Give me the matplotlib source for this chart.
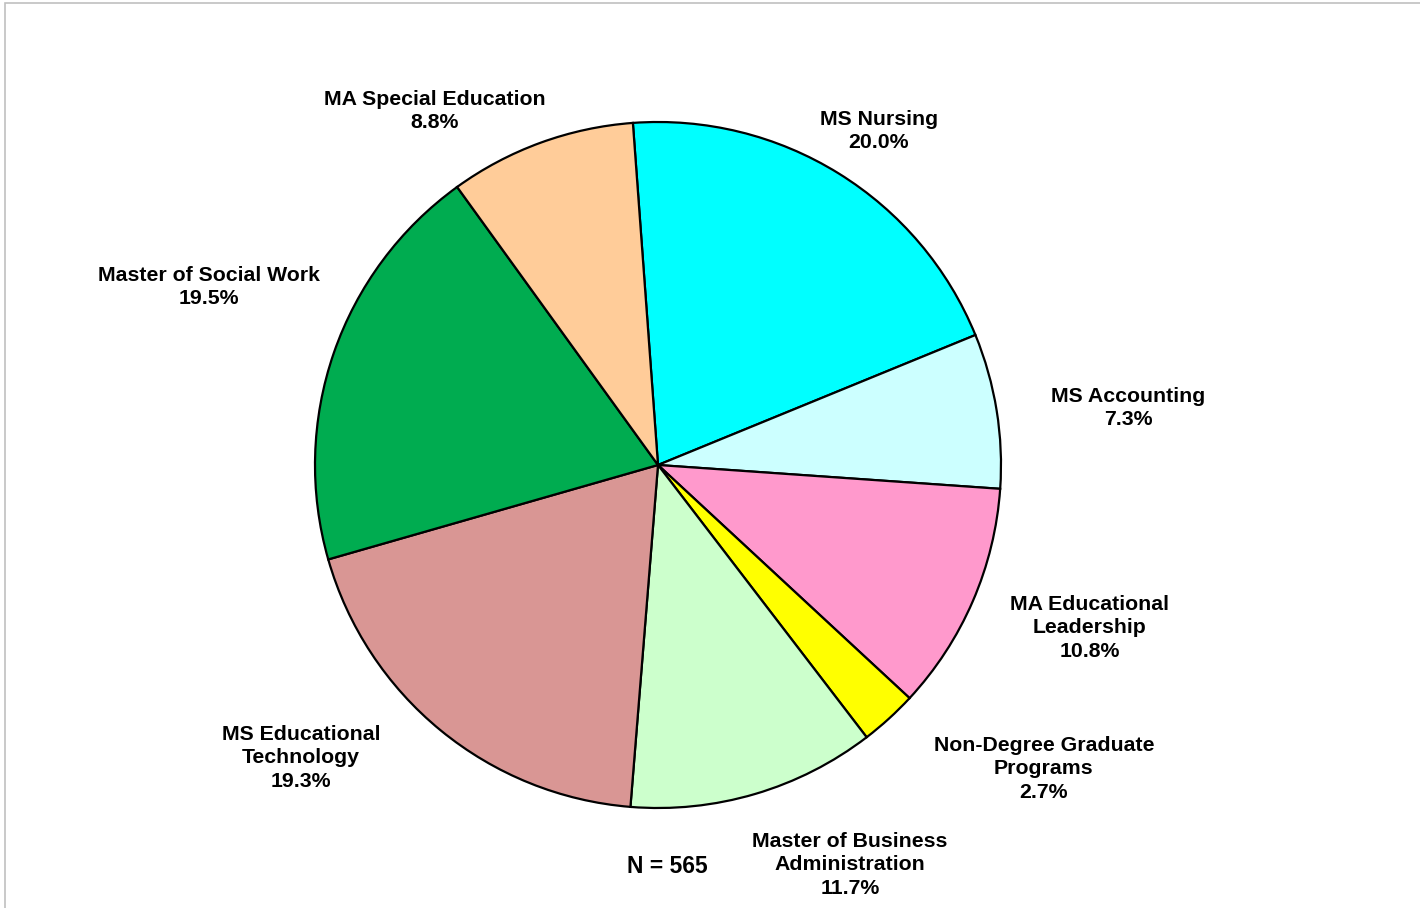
import matplotlib
matplotlib.use('Agg')
import matplotlib.pyplot as plt
from matplotlib.patches import Rectangle

# slices, clockwise from the top
programs = ["MS Nursing", "MS Accounting", "MA Educational\nLeadership",
            "Non-Degree Graduate\nPrograms", "Master of Business\nAdministration",
            "MS Educational\nTechnology", "Master of Social Work",
            "MA Special Education"]
shares = [20.0, 7.3, 10.8, 2.7, 11.7, 19.3, 19.5, 8.8]
colors = ["#00FFFF", "#CCFFFF", "#FF99CC", "#FFFF00", "#CCFFCC",
          "#D99694", "#00AC50", "#FFCC99"]
n_total = 565

# label spots in pie-radius units
label_pos = [(0.644, 0.974), (1.370, 0.166), (1.259, -0.475), (1.125, -0.886),
             (0.560, -1.166), (-1.041, -0.854), (-1.309, 0.519), (-0.650, 1.032)]

W, H = 1420, 908
cx, cy, R = 658, 465, 343

fig = plt.figure(figsize=(W / 100, H / 100), dpi=100)
ax = fig.add_axes([0, 0, 1, 1])
ax.pie(shares, colors=colors, startangle=94.2, counterclock=False, radius=1,
       wedgeprops=dict(edgecolor="black", linewidth=1.6))
ax.set_xlim(-cx / R, (W - cx) / R)
ax.set_ylim(-(H - cy) / R, cy / R)
ax.set_aspect('auto')
ax.axis('off')

for name, pct, (x, y) in zip(programs, shares, label_pos):
	ax.text(x, y, "{}\n{:.1f}%".format(name, pct), ha="center", va="center",
	        fontsize=15.3, fontweight="bold", family="Liberation Sans",
	        linespacing=1.28)

ax.text(0.026, -1.172, "N = {}".format(n_total), ha="center", va="center",
        fontsize=16.5, fontweight="bold", family="Liberation Sans")

# thin gray frame, cut by the image edge on the right and bottom
fig.patches.append(Rectangle((5 / W, -0.1), 1.2, 1.1 - 3 / H, transform=fig.transFigure,
                             fill=False, edgecolor="#C0C0C0", linewidth=1.2))

plt.savefig("out.png", dpi=100)
plt.close()
